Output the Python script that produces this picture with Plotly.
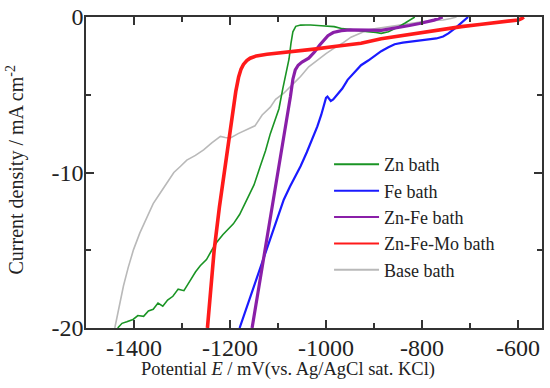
import plotly.graph_objects as go

# ---- data ----
zn_x = [-1434, -1425, -1415, -1402, -1392, -1380, -1370, -1360, -1350, -1340, -1330, -1319,
        -1308, -1296, -1284, -1272, -1262, -1249, -1238, -1228, -1215, -1203, -1193, -1180,
        -1165, -1150, -1137, -1126, -1116, -1105, -1098, -1090, -1084, -1077, -1073, -1069,
        -1063, -1053, -1042, -1032, -1010, -983, -966, -948, -930, -913, -896, -885, -870,
        -861, -850, -836, -826, -815]
zn_y = [-20, -19.7, -19.6, -19.45, -19.2, -19.25, -18.9, -18.8, -18.4, -18.6, -18.2, -17.96,
        -17.5, -17.6, -17.0, -16.4, -16.0, -15.6, -15.0, -14.5, -14.0, -13.6, -13.3, -12.7,
        -11.75, -10.8, -9.6, -8.6, -7.5, -6.5, -5.9, -4.6, -3.8, -2.7, -1.7, -0.95,
        -0.6, -0.52, -0.51, -0.51, -0.56, -0.62, -0.75, -0.83, -0.9, -0.94, -1.0, -1.05, -0.95,
        -0.83, -0.65, -0.4, -0.2, 0]

fe_x = [-1180, -1170, -1160, -1148, -1135, -1123, -1110, -1100, -1088, -1075, -1063, -1053,
        -1040, -1028, -1018, -1010, -1004, -1000, -997, -993, -990, -985, -976, -966, -955,
        -940, -927, -912, -899, -885, -870, -857, -840, -826, -800, -787, -770, -756, -745,
        -730, -718, -710, -704]
fe_y = [-20, -19.1, -18.2, -17.2, -16.0, -14.96, -13.8, -12.8, -11.75, -10.9, -10.2, -9.6,
        -8.7, -7.8, -7.04, -6.3, -5.55, -5.2, -5.12, -5.3, -5.4, -5.3, -5.0, -4.6, -4.04,
        -3.5, -3.1, -2.8, -2.5, -2.2, -1.95, -1.75, -1.65, -1.6, -1.5, -1.45, -1.38, -1.25,
        -1.05, -0.7, -0.35, -0.15, 0]

znfe_x = [-1154, -1140, -1125, -1112, -1100, -1090, -1081, -1074, -1069, -1064, -1058, -1050,
          -1036, -1024, -1013, -1004, -996, -985, -968, -950, -930, -910, -885, -860, -840,
          -826, -805, -787, -775, -765, -757]
znfe_y = [-20, -17.4, -14.7, -12.3, -10.1, -8.3, -6.6, -5.1, -4.0, -3.4, -3.1, -2.9,
          -2.65, -2.25, -1.8, -1.45, -1.2, -1.0, -0.88, -0.83, -0.82, -0.84, -0.86, -0.75,
          -0.65, -0.55, -0.42, -0.3, -0.2, -0.1, 0]

znfemo_x = [-1247, -1240, -1233, -1222, -1212, -1204, -1196, -1188, -1182, -1177, -1172,
            -1165, -1158, -1145, -1123, -1090, -1053, -1020, -983, -950, -927, -885, -857,
            -820, -787, -750, -718, -680, -648, -620, -599, -592, -588]
znfemo_y = [-20, -17.4, -15, -12.2, -10, -8.1, -6.3, -4.8, -3.85, -3.35, -3.05,
            -2.8, -2.65, -2.5, -2.4, -2.3, -2.2, -2.05, -1.9, -1.78, -1.69, -1.4, -1.26,
            -1.1, -0.94, -0.78, -0.62, -0.48, -0.36, -0.26, -0.19, -0.1, 0]

base_x = [-1440, -1432, -1422, -1412, -1401, -1388, -1373, -1360, -1345, -1330, -1317, -1303,
          -1290, -1272, -1255, -1238, -1220, -1210, -1200, -1183, -1165, -1148, -1133, -1116,
          -1105, -1088, -1070, -1053, -1036, -1018, -1000, -983, -966, -948, -930, -913, -896,
          -870, -845, -826, -800, -775, -756, -740, -728]
base_y = [-20, -18.7, -17.3, -16.1, -14.96, -13.9, -12.82, -12.0, -11.3, -10.6, -10.0, -9.6,
          -9.2, -8.9, -8.54, -8.1, -7.68, -7.75, -7.79, -7.5, -7.26, -7.0, -6.3, -5.8,
          -5.3, -4.9, -4.35, -3.83, -3.2, -2.76, -2.35, -2.0, -1.69, -1.3, -1.05, -0.83, -0.75,
          -0.62, -0.5, -0.4, -0.3, -0.22, -0.19, -0.1, 0]

x_tickvals = [-1400, -1200, -1000, -800, -600]
x_ticktext = ["-1400", "-1200", "-1000", "-800", "-600"]
y_tickvals = [0, -10, -20]
y_ticktext = ["0", "-10", "-20"]

FONT = "Liberation Serif, Times New Roman, serif"

fig = go.Figure()
series = [
    ("Base bath", base_x, base_y, "#b9b9b9", 1.6, 5),
    ("Zn bath", zn_x, zn_y, "#1a9424", 1.6, 1),
    ("Fe bath", fe_x, fe_y, "#1a1aff", 2.2, 2),
    ("Zn-Fe bath", znfe_x, znfe_y, "#8a1fa8", 3.2, 3),
    ("Zn-Fe-Mo bath", znfemo_x, znfemo_y, "#ff1a1a", 3.6, 4),
]
for name, xs, ys, col, w, rank in series:
    fig.add_trace(go.Scatter(x=xs, y=ys, mode="lines", name=name, showlegend=False,
                             line=dict(color=col, width=w)))
# legend entries with thin sample lines (no data)
for name, xs, ys, col, w, rank in series:
    fig.add_trace(go.Scatter(x=[None], y=[None], mode="lines", name=name,
                             line=dict(color=col, width=2), legendrank=rank))

axis_common = dict(showgrid=False, zeroline=False, showline=True, linecolor="#333333",
                   linewidth=1.5, mirror="allticks", ticks="inside", ticklen=8,
                   tickwidth=1.5, tickcolor="#333333", automargin=False,
                   tickfont=dict(family=FONT, size=24, color="#222222"))

fig.update_xaxes(range=[-1500, -550], tickvals=x_tickvals, ticktext=x_ticktext,
                 ticklabelstandoff=-3,
                 minor=dict(dtick=100, tick0=-1500, ticks="inside", ticklen=5, tickwidth=1.5,
                            tickcolor="#333333"),
                 **axis_common)
fig.update_yaxes(range=[-20, 0], tickvals=y_tickvals, ticktext=y_ticktext,
                 ticklabelstandoff=-4,
                 minor=dict(dtick=5, tick0=0, ticks="inside", ticklen=5, tickwidth=1.5,
                            tickcolor="#333333"),
                 **axis_common)

fig.update_layout(
    width=550, height=388,
    margin=dict(l=86, r=8, t=17, b=60, autoexpand=False),
    paper_bgcolor="white", plot_bgcolor="white",
    showlegend=True,
    legend=dict(x=0.533, y=0.585, xanchor="left", yanchor="top",
                bgcolor="rgba(0,0,0,0)", font=dict(family=FONT, size=18, color="#222222"),
                itemwidth=45, tracegroupgap=0),
    annotations=[
        dict(text="Potential <i>E</i> / mV(vs. Ag/AgCl sat. KCl)", xref="paper", yref="paper",
             x=0.442, y=-0.133, xanchor="center", yanchor="middle", showarrow=False,
             font=dict(family=FONT, size=18.5, color="#222222")),
        dict(text="Current density / mA cm<sup>-2</sup>", xref="paper", yref="paper",
             x=-0.154, y=0.509, xanchor="center", yanchor="middle", showarrow=False,
             textangle=-90, font=dict(family=FONT, size=20, color="#222222")),
    ],
)

fig.write_html("out.html", config={"displayModeBar": False},
               post_script="document.body.style.margin='0';document.body.style.overflow='hidden';")
